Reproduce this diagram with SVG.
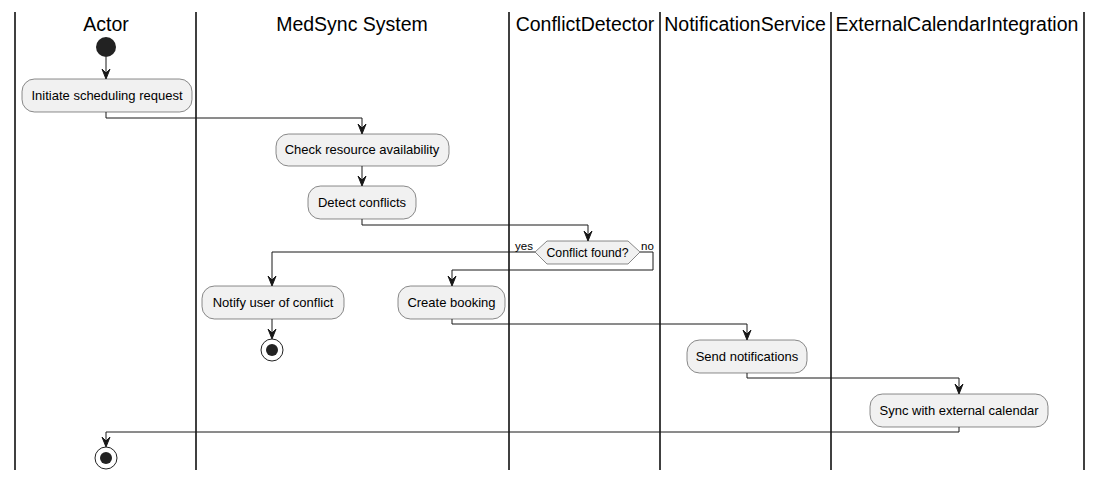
<svg xmlns="http://www.w3.org/2000/svg" width="1102" height="480" viewBox="0 0 1102 480">
<style>
.lane{stroke:#000;stroke-width:1.5;}
.title{font-family:"Liberation Sans",Arial,sans-serif;font-size:19.5px;fill:#000;text-anchor:middle;}
.box{fill:#F1F1F1;stroke:#181818;stroke-width:0.5;}
.lbl{font-family:"Liberation Sans",Arial,sans-serif;font-size:13px;fill:#000;text-anchor:middle;}
.sm{font-family:"Liberation Sans",Arial,sans-serif;font-size:11.5px;fill:#000;}
.edge{fill:none;stroke:#181818;stroke-width:1;}
.ah{fill:#181818;stroke:#181818;stroke-width:1;}
</style>
<rect width="1102" height="480" fill="#fff"/>
<g id="lanes">
<line class="lane" x1="15" y1="12" x2="15" y2="470"/>
<line class="lane" x1="196" y1="12" x2="196" y2="470"/>
<line class="lane" x1="509" y1="12" x2="509" y2="470"/>
<line class="lane" x1="660" y1="12" x2="660" y2="470"/>
<line class="lane" x1="831" y1="12" x2="831" y2="470"/>
<line class="lane" x1="1084" y1="12" x2="1084" y2="470"/>
<text class="title" x="106" y="31">Actor</text>
<text class="title" x="352" y="31">MedSync System</text>
<text class="title" x="585" y="31">ConflictDetector</text>
<text class="title" x="745" y="31">NotificationService</text>
<text class="title" x="957" y="31">ExternalCalendarIntegration</text>
</g>
<g id="connectors">
<path class="edge" d="M106,57 V77"/>
<polygon class="ah" points="102,69 106,79 110,69 106,73"/>
<path class="edge" d="M106,112 V118 H362 V132"/>
<polygon class="ah" points="358,124 362,134 366,124 362,128"/>
<path class="edge" d="M362,166 V184"/>
<polygon class="ah" points="358,176 362,186 366,176 362,180"/>
<path class="edge" d="M362,219 V225 H588 V239"/>
<polygon class="ah" points="584,231 588,241 592,231 588,235"/>
<path class="edge" d="M535,252 H272 V284"/>
<polygon class="ah" points="268,276 272,286 276,276 272,280"/>
<path class="edge" d="M640,252 H653 V270 H452 V284"/>
<polygon class="ah" points="448,276 452,286 456,276 452,280"/>
<path class="edge" d="M272,319 V337"/>
<polygon class="ah" points="268,329 272,339 276,329 272,333"/>
<path class="edge" d="M452,319 V324 H747 V338"/>
<polygon class="ah" points="743,330 747,340 751,330 747,334"/>
<path class="edge" d="M747,373 V378 H959 V392"/>
<polygon class="ah" points="955,384 959,394 963,384 959,388"/>
<path class="edge" d="M959,427 V432 H106 V445"/>
<polygon class="ah" points="102,437 106,447 110,437 106,441"/>
<text class="sm" x="515" y="250">yes</text>
<text class="sm" x="641" y="250">no</text>
</g>
<g id="start"><circle cx="106" cy="47" r="10" fill="#222"/></g>
<g id="initiate"><rect class="box" x="22" y="79" width="170" height="33" rx="12.5"/><text class="lbl" x="107" y="100">Initiate scheduling request</text></g>
<g id="check"><rect class="box" x="276" y="134" width="173" height="32" rx="12.5"/><text class="lbl" x="362" y="154">Check resource availability</text></g>
<g id="detect"><rect class="box" x="308" y="186" width="108" height="33" rx="12.5"/><text class="lbl" x="362" y="207">Detect conflicts</text></g>
<g id="decision"><polygon class="box" points="535,252 547,241 628,241 640,252 628,264 547,264"/><text class="sm" x="587.5" y="256.5" text-anchor="middle" style="font-size:12.3px">Conflict found?</text></g>
<g id="notify"><rect class="box" x="202" y="286" width="142" height="33" rx="12.5"/><text class="lbl" x="273" y="307">Notify user of conflict</text></g>
<g id="end1"><circle cx="272" cy="350" r="11" fill="none" stroke="#222" stroke-width="1"/><circle cx="272" cy="350" r="6" fill="#222"/></g>
<g id="booking"><rect class="box" x="398" y="286" width="107" height="33" rx="12.5"/><text class="lbl" x="451.5" y="307">Create booking</text></g>
<g id="send"><rect class="box" x="687" y="340" width="120" height="33" rx="12.5"/><text class="lbl" x="747" y="361">Send notifications</text></g>
<g id="sync"><rect class="box" x="870" y="394" width="178" height="33" rx="12.5"/><text class="lbl" x="959" y="415">Sync with external calendar</text></g>
<g id="end2"><circle cx="106" cy="458" r="11" fill="none" stroke="#222" stroke-width="1"/><circle cx="106" cy="458" r="6" fill="#222"/></g>
</svg>
